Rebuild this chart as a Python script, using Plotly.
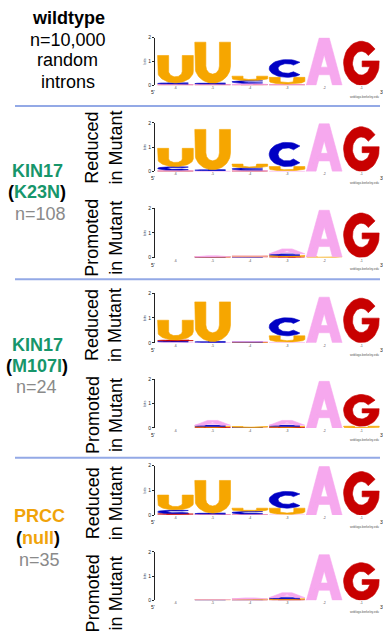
import numpy as np
import plotly.graph_objects as go

W, H = 383, 636

# ---------------- data (bits per letter, positions 1..6) ----------------
positions = [1, 2, 3, 4, 5, 6]
pos_labels = ["-6", "-5", "-4", "-3", "-2", "-1"]
letters = ["A", "C", "G", "U"]

# wildtype, n=10,000 random introns
wt_A = [0.03, 0.03, 0.05, 0.03, 2.00, 0.00]
wt_C = [0.05, 0.04, 0.12, 0.75, 0.00, 0.00]
wt_G = [0.02, 0.02, 0.03, 0.02, 0.00, 1.85]
wt_U = [1.15, 1.72, 0.18, 0.28, 0.00, 0.00]

# KIN17 (K23N) reduced / promoted
k23n_red_A = [0.03, 0.03, 0.03, 0.03, 1.96, 0.00]
k23n_red_C = [0.15, 0.04, 0.10, 1.00, 0.00, 0.00]
k23n_red_G = [0.02, 0.00, 0.02, 0.00, 0.00, 1.84]
k23n_red_U = [0.75, 1.66, 0.15, 0.17, 0.00, 0.00]

k23n_pro_A = [0.00, 0.04, 0.03, 0.20, 1.88, 0.00]
k23n_pro_C = [0.00, 0.01, 0.02, 0.07, 0.00, 0.00]
k23n_pro_G = [0.00, 0.01, 0.02, 0.04, 0.00, 1.80]
k23n_pro_U = [0.00, 0.01, 0.02, 0.04, 0.03, 0.00]

# KIN17 (M107I) reduced / promoted
m107i_red_A = [0.03, 0.01, 0.03, 0.03, 1.84, 0.00]
m107i_red_C = [0.04, 0.04, 0.02, 0.73, 0.00, 0.00]
m107i_red_G = [0.04, 0.00, 0.01, 0.00, 0.00, 1.80]
m107i_red_U = [0.80, 1.60, 0.01, 0.25, 0.00, 0.00]

m107i_pro_A = [0.00, 0.20, 0.01, 0.20, 1.92, 0.00]
m107i_pro_C = [0.00, 0.05, 0.01, 0.05, 0.00, 0.00]
m107i_pro_G = [0.00, 0.03, 0.00, 0.03, 0.00, 1.31]
m107i_pro_U = [0.00, 0.03, 0.04, 0.03, 0.00, 0.07]

# PRCC (null) reduced / promoted
prcc_red_A = [0.03, 0.03, 0.03, 0.03, 1.96, 0.00]
prcc_red_C = [0.15, 0.04, 0.12, 0.68, 0.00, 0.00]
prcc_red_G = [0.03, 0.01, 0.01, 0.00, 0.00, 1.76]
prcc_red_U = [0.60, 1.32, 0.12, 0.25, 0.00, 0.00]

prcc_pro_A = [0.00, 0.03, 0.05, 0.20, 1.88, 0.00]
prcc_pro_C = [0.00, 0.01, 0.02, 0.05, 0.00, 0.00]
prcc_pro_G = [0.00, 0.00, 0.01, 0.03, 0.00, 1.55]
prcc_pro_U = [0.00, 0.01, 0.02, 0.03, 0.00, 0.00]

panels = [
    dict(A=wt_A, C=wt_C, G=wt_G, U=wt_U),
    dict(A=k23n_red_A, C=k23n_red_C, G=k23n_red_G, U=k23n_red_U),
    dict(A=k23n_pro_A, C=k23n_pro_C, G=k23n_pro_G, U=k23n_pro_U),
    dict(A=m107i_red_A, C=m107i_red_C, G=m107i_red_G, U=m107i_red_U),
    dict(A=m107i_pro_A, C=m107i_pro_C, G=m107i_pro_G, U=m107i_pro_U),
    dict(A=prcc_red_A, C=prcc_red_C, G=prcc_red_G, U=prcc_red_U),
    dict(A=prcc_pro_A, C=prcc_pro_C, G=prcc_pro_G, U=prcc_pro_U),
]

# ---------------- styling ----------------
letter_colors = {"A": "#f6a8ee", "C": "#0000c4", "G": "#c80000", "U": "#f6a600"}
FONT = "Liberation Sans, Arial, Helvetica, sans-serif"
GREEN = "#17966b"
ORANGE = "#f0a30a"
GRAY = "#8a8a8a"
SEP = "#93a9e6"

# pixel rows of the y axis (value 2 at top, value 0 at bottom)
panel_px = [(35, 83), (121, 170), (207, 257), (293, 343), (380, 429), (467, 517), (554, 603)]
X0_PX, X1_PX = 155, 380


# ---------------- glyph outlines in a unit box ----------------
def arc(cx, cy, rx, ry, a0, a1, n=36):
    t = np.radians(np.linspace(a0, a1, n))
    return list(cx + rx * np.cos(t)), list(cy + ry * np.sin(t))


def glyph(letter):
    if letter == "U":
        t, tv, r = 0.31, 0.22, 0.42
        xs, ys = [0.0], [1.0]
        ax, ay = arc(0.5, r, 0.5, r, 180, 360)
        xs += ax; ys += ay
        xs += [1.0, 1 - t]; ys += [1.0, 1.0]
        bx, by = arc(0.5, r, 0.5 - t, r - tv, 360, 180)
        xs += bx; ys += by
        xs += [t, 0.0]; ys += [1.0, 1.0]
        return xs, ys
    if letter == "C":
        ax, ay = arc(0.5, 0.5, 0.5, 0.5, 44, 316)
        bx, by = arc(0.5, 0.5, 0.25, 0.27, 316, 44)
        return ax + bx + [ax[0]], ay + by + [ay[0]]
    if letter == "G":
        ax, ay = arc(0.5, 0.5, 0.5, 0.5, 40, 366)
        th = np.degrees(np.arcsin(-0.08 / 0.27)) + 360
        bx, by = arc(0.5, 0.5, 0.25, 0.27, th, 40)
        xs = ax + [0.52, 0.52] + bx + [ax[0]]
        ys = ay + [ay[-1], 0.42] + by + [ay[0]]
        return xs, ys
    if letter == "A":
        outer_x = [0.0, 0.27, 0.345, 0.655, 0.73, 1.0, 0.64, 0.36, 0.0]
        outer_y = [0.0, 0.0, 0.22, 0.22, 0.0, 0.0, 1.0, 1.0, 0.0]
        hole_x = [0.405, 0.5, 0.595, 0.405]
        hole_y = [0.38, 0.64, 0.38, 0.38]
        return outer_x + hole_x + [0.0], outer_y + hole_y + [0.0]


GLYPHS = {L: glyph(L) for L in letters}

fig = go.Figure()
layout_axes = {}

for k, (panel, (py2, py0)) in enumerate(zip(panels, panel_px), start=1):
    xa = "x" if k == 1 else f"x{k}"
    ya = "y" if k == 1 else f"y{k}"
    for i, pos in enumerate(positions):
        stack = sorted(((panel[L][i], L) for L in letters), key=lambda t: t[0])
        base = 0.0
        for h, L in stack:
            if h <= 0:
                continue
            gx, gy = GLYPHS[L]
            pad = 0.02
            xs = [pos - 0.5 + pad + (1 - 2 * pad) * v for v in gx]
            ys = [base + h * v for v in gy]
            fig.add_trace(go.Scatter(
                x=xs, y=ys, mode="lines", fill="toself",
                fillcolor=letter_colors[L],
                line=dict(width=0.6, color=letter_colors[L]),
                hoverinfo="skip", showlegend=False, xaxis=xa, yaxis=ya))
            base += h

    yd = [1 - py0 / H, 1 - py2 / H]
    xkey = "xaxis" if k == 1 else f"xaxis{k}"
    ykey = "yaxis" if k == 1 else f"yaxis{k}"
    layout_axes[xkey] = dict(
        domain=[X0_PX / W, X1_PX / W], range=[0.45, 6.5], anchor=ya,
        tickvals=positions, ticktext=pos_labels, tickfont=dict(size=3, color="#444", family=FONT),
        showgrid=False, zeroline=False, showline=False, ticks="", ticklabelstandoff=0)
    layout_axes[ykey] = dict(
        domain=yd, range=[0, 2], anchor=xa, tickvals=[0, 1, 2],
        tickfont=dict(size=5, color="#222", family=FONT), ticks="outside", ticklen=2,
        tickcolor="#222", showline=True, linecolor="#222", linewidth=1,
        showgrid=False, zeroline=False,
        title=dict(text="bits", font=dict(size=4, family=FONT), standoff=1))

fig.update_layout(**layout_axes)

ann = []


def txt(text, px, py, size=18, color="black", angle=0):
    ann.append(dict(text=text, x=px / W, y=1 - py / H, xref="paper", yref="paper",
                    showarrow=False, xanchor="center", yanchor="middle", textangle=angle,
                    font=dict(size=size, color=color, family=FONT)))


# left column labels
txt("<b>wildtype</b>", 68, 15)
txt("n=10,000", 68, 37)
txt("random", 67, 58)
txt("introns", 68, 80)

txt("<b>KIN17</b>", 37, 170, color=GREEN)
txt(f"<b>(<span style='color:{GREEN}'>K23N</span>)</b>", 37, 191)
txt("n=108", 40, 213, color=GRAY)

txt("<b>KIN17</b>", 37, 345, color=GREEN)
txt(f"<b>(<span style='color:{GREEN}'>M107I</span>)</b>", 37, 366)
txt("n=24", 36, 388, color=GRAY)

txt("<b>PRCC</b>", 39, 518, color=ORANGE)
txt(f"<b>(<span style='color:{ORANGE}'>null</span>)</b>", 38, 540)
txt("n=35", 39, 562, color=GRAY)

for cy, word in [(146, "Reduced"), (237, "Promoted"), (325, "Reduced"),
                 (416, "Promoted"), (505, "Reduced"), (596, "Promoted")]:
    txt(f"{word}<br>in Mutant", 104, cy, angle=-90)

# weblogo decorations per panel
for k, (py2, py0) in enumerate(panel_px, start=1):
    ann.append(dict(text="5'", x=X0_PX / W - 0.004, y=1 - (py0 + 7) / H, xref="paper", yref="paper",
                    showarrow=False, xanchor="center", yanchor="middle",
                    font=dict(size=5, color="#222", family=FONT)))
    ann.append(dict(text="3'", x=381.5 / W, y=1 - (py0 + 7) / H, xref="paper", yref="paper",
                    showarrow=False, xanchor="center", yanchor="middle",
                    font=dict(size=5, color="#222", family=FONT)))
    ann.append(dict(text="weblogo.berkeley.edu", x=381 / W, y=1 - (py0 + 12) / H,
                    xref="paper", yref="paper", showarrow=False, xanchor="right",
                    yanchor="middle", font=dict(size=3, color="#555", family=FONT)))

shapes = []
for yy in [104, 279, 459]:
    shapes.append(dict(type="line", xref="paper", yref="paper", x0=15 / W, x1=380 / W,
                       y0=1 - yy / H, y1=1 - yy / H, line=dict(color=SEP, width=2)))

fig.update_layout(
    width=W, height=H, margin=dict(l=0, r=0, t=0, b=0),
    paper_bgcolor="white", plot_bgcolor="white",
    annotations=ann, shapes=shapes, showlegend=False,
    font=dict(family=FONT))

fig.write_html("out.html")
